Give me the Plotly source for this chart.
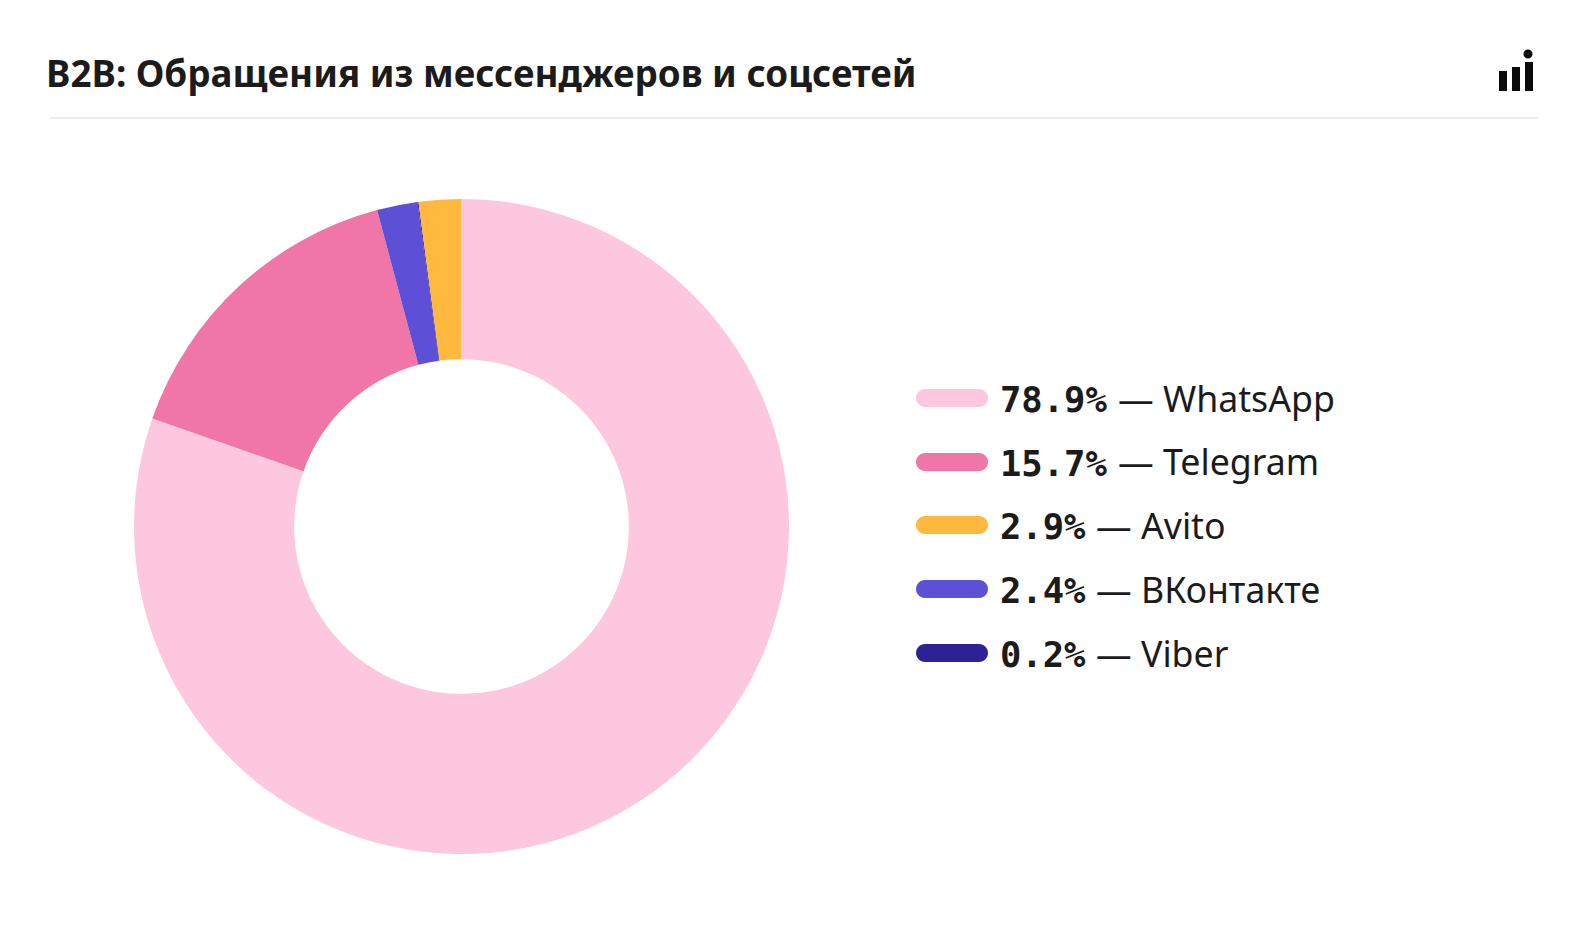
import plotly.graph_objects as go

W, H = 1569, 946

slice_names = ["WhatsApp", "Telegram", "ВКонтакте", "Viber", "Avito"]
slice_shares = [80.35, 15.5, 2.0, 0.05, 2.1]
slice_colors = ["#FDC8DF", "#F076A7", "#5E50D6", "#2E2096", "#FFB93F"]

# Legend rows as printed
legend_names = ["WhatsApp", "Telegram", "Avito", "ВКонтакте", "Viber"]
legend_pcts = ["78.9%", "15.7%", "2.9%", "2.4%", "0.2%"]
legend_colors = ["#FDC8DF", "#F076A7", "#FFB93F", "#5E50D6", "#2E2096"]

title = "B2B: Обращения из мессенджеров и соцсетей"
TEXT = "#1B1B1B"
SANS = "Noto Sans"
MONO = "DejaVu Sans Mono"


def px(x):
    return x / W


def py(y):
    return 1 - y / H


def pill(x0, x1, yc, h, color):
    r = h / 2
    a, b = px(x0 + r), px(x1 - r)
    t, bt = py(yc - r), py(yc + r)
    path = (
        f"M {a} {t} L {b} {t} "
        f"C {px(x1 - r * 0.45)} {t} {px(x1)} {py(yc - r * 0.55)} {px(x1)} {py(yc)} "
        f"C {px(x1)} {py(yc + r * 0.55)} {px(x1 - r * 0.45)} {bt} {b} {bt} "
        f"L {a} {bt} "
        f"C {px(x0 + r * 0.45)} {bt} {px(x0)} {py(yc + r * 0.55)} {px(x0)} {py(yc)} "
        f"C {px(x0)} {py(yc - r * 0.55)} {px(x0 + r * 0.45)} {t} {a} {t} Z"
    )
    return dict(type="path", xref="paper", yref="paper", path=path,
                fillcolor=color, line_width=0, layer="above")


def rect(x0, x1, y0, y1, color, kind="rect"):
    return dict(type=kind, xref="paper", yref="paper",
                x0=px(x0), x1=px(x1), y0=py(y1), y1=py(y0),
                fillcolor=color, line_width=0, layer="above")


fig = go.Figure(go.Pie(
    labels=slice_names,
    values=slice_shares,
    sort=False,
    direction="clockwise",
    rotation=0,
    hole=0.511,
    marker=dict(colors=slice_colors, line=dict(width=0)),
    textinfo="none",
    hoverinfo="label+percent",
    showlegend=False,
    domain=dict(x=[px(134), px(789)], y=[py(854), py(199)]),
))

shapes = [
    rect(50, 1538, 117, 119, "#ECECEC"),
    rect(1499, 1507, 71, 91, "#0A0A0A"),
    rect(1512, 1520, 67, 91, "#0A0A0A"),
    rect(1525, 1533, 62, 91, "#0A0A0A"),
    rect(1523.5, 1532.5, 49.5, 58.5, "#0A0A0A", "circle"),
]

annotations = [dict(
    text=f"<b>{title}</b>", xref="paper", yref="paper", x=px(44), y=py(73),
    xanchor="left", yanchor="middle", showarrow=False,
    font=dict(family=SANS, size=36.75, color=TEXT),
)]

row_y = [398, 462, 525, 589, 653]
for yc, name, pct, color in zip(row_y, legend_names, legend_pcts, legend_colors):
    shapes.append(pill(916, 988, yc, 18, color))
    annotations.append(dict(
        text=f"<b>{pct}</b>", xref="paper", yref="paper", x=px(998), y=py(yc + 1),
        xanchor="left", yanchor="middle", showarrow=False,
        font=dict(family=MONO, size=35.5, color=TEXT),
    ))
    offset = 21.4 * len(pct) + 9.5
    annotations.append(dict(
        text=f"— {name}", xref="paper", yref="paper", x=px(999 + offset), y=py(yc - 0.5),
        xanchor="left", yanchor="middle", showarrow=False,
        font=dict(family=SANS, size=35.7, color=TEXT),
    ))

fig.update_layout(
    width=W, height=H,
    margin=dict(l=0, r=0, t=0, b=0),
    paper_bgcolor="#FFFFFF",
    shapes=shapes,
    annotations=annotations,
)

fig.write_html(
    "out.html",
    config=dict(displayModeBar=False),
    post_script="document.body.style.margin='0';document.body.style.overflow='hidden';",
)
